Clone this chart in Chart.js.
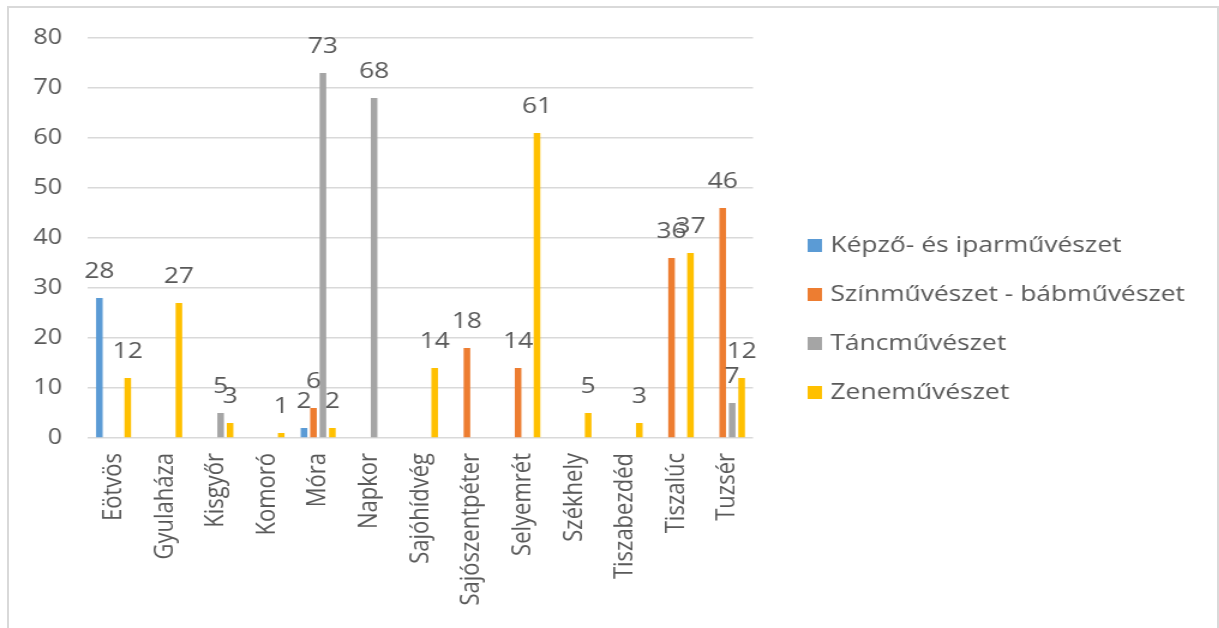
<!DOCTYPE html>
<html>
<head>
<meta charset="utf-8">
<script src="https://cdn.jsdelivr.net/npm/chart.js@4.4.1/dist/chart.umd.min.js"></script>
<style>
  html, body { margin: 0; padding: 0; background: #ffffff; overflow: hidden; }
  #frame { position: absolute; left: 7px; top: 6px; width: 1208px; height: 640px;
           border: 2px solid #d9d9d9; border-bottom: none; }
  #wrap { position: absolute; left: 0; top: 0; width: 1016px; height: 628px;
          transform: scaleX(1.2); transform-origin: 0 0; }
</style>
</head>
<body>
<div id="frame"></div>
<div id="wrap"><canvas id="c" width="1016" height="628"></canvas></div>
<script>
const categories = ['Eötvös','Gyulaháza','Kisgyőr','Komoró','Móra','Napkor','Sajóhídvég','Sajószentpéter','Selyemrét','Székhely','Tiszabezdéd','Tiszalúc','Tuzsér'];
const seriesNames = ['Képző- és iparművészet','Színművészet - bábművészet','Táncművészet','Zeneművészet'];
const kepzo = [28, 0, 0, 0, 2, 0, 0, 0, 0, 0, 0, 0, 0];
const szin  = [0, 0, 0, 0, 6, 0, 0, 18, 14, 0, 0, 36, 46];
const tanc  = [0, 0, 5, 0, 73, 68, 0, 0, 0, 0, 0, 0, 7];
const zene  = [12, 27, 3, 1, 2, 0, 14, 0, 61, 5, 3, 37, 12];
const yTicks = [0, 10, 20, 30, 40, 50, 60, 70, 80];
const colors = ['#5B9BD5', '#ED7D31', '#A5A5A5', '#FFC000'];

const textColor = '#595959';
const fontFamily = '"Open Sans", "DejaVu Sans", sans-serif';

const valueLabels = {
  id: 'valueLabels',
  afterDatasetsDraw(chart) {
    const ctx = chart.ctx;
    ctx.save();
    ctx.font = '22px ' + fontFamily;
    ctx.fillStyle = textColor;
    ctx.textAlign = 'center';
    ctx.textBaseline = 'middle';
    chart.data.datasets.forEach((ds, i) => {
      const meta = chart.getDatasetMeta(i);
      meta.data.forEach((bar, j) => {
        const v = ds.data[j];
        if (!v) return;
        ctx.fillText(String(v), bar.x, bar.y - 26);
      });
    });
    ctx.restore();
  }
};

// Legend drawn to the right of the plot area (built-in right legend is capped in width)
const sideLegend = {
  id: 'sideLegend',
  afterDraw(chart) {
    const ctx = chart.ctx;
    const ds = chart.data.datasets;
    const boxX = chart.chartArea.right + 45.5;
    const rowGap = 49;
    const firstY = (chart.height + 10) / 2 - rowGap * (ds.length - 1) / 2;
    ctx.save();
    ctx.font = '22px ' + fontFamily;
    ctx.textAlign = 'left';
    ctx.textBaseline = 'middle';
    ds.forEach((d, i) => {
      const cy = firstY + i * rowGap;
      ctx.fillStyle = d.backgroundColor;
      ctx.fillRect(boxX, cy - 6.5, 12, 13);
      ctx.fillStyle = textColor;
      ctx.fillText(d.label, boxX + 19, cy);
    });
    ctx.restore();
  }
};

const seriesData = [kepzo, szin, tanc, zene];

new Chart(document.getElementById('c'), {
  type: 'bar',
  data: {
    labels: categories,
    datasets: seriesData.map((d, i) => ({
      label: seriesNames[i],
      data: d,
      backgroundColor: colors[i],
      borderWidth: 0,
      categoryPercentage: 0.74,
      barPercentage: 0.7
    }))
  },
  options: {
    responsive: false,
    animation: false,
    events: [],
    layout: { padding: { left: 24, top: 38, right: 388.5, bottom: 0 } },
    scales: {
      x: {
        grid: { display: false, drawTicks: false },
        border: { display: false },
        ticks: {
          autoSkip: false, maxRotation: 90, minRotation: 90, padding: 15,
          color: textColor, font: { family: fontFamily, size: 22 }
        },
        afterFit(s) { s.height = 190; }
      },
      y: {
        min: 0, max: 80,
        afterBuildTicks(s) { s.ticks = yTicks.map(v => ({ value: v })); },
        grid: { color: '#d9d9d9', lineWidth: 1.5, drawTicks: false },
        border: { display: false },
        ticks: { padding: 21.6, color: textColor, font: { family: fontFamily, size: 21 } },
        afterFit(s) { s.width = 49.3; }
      }
    },
    plugins: {
      legend: { display: false },
      tooltip: { enabled: false }
    }
  },
  plugins: [valueLabels, sideLegend]
});
</script>
</body>
</html>
